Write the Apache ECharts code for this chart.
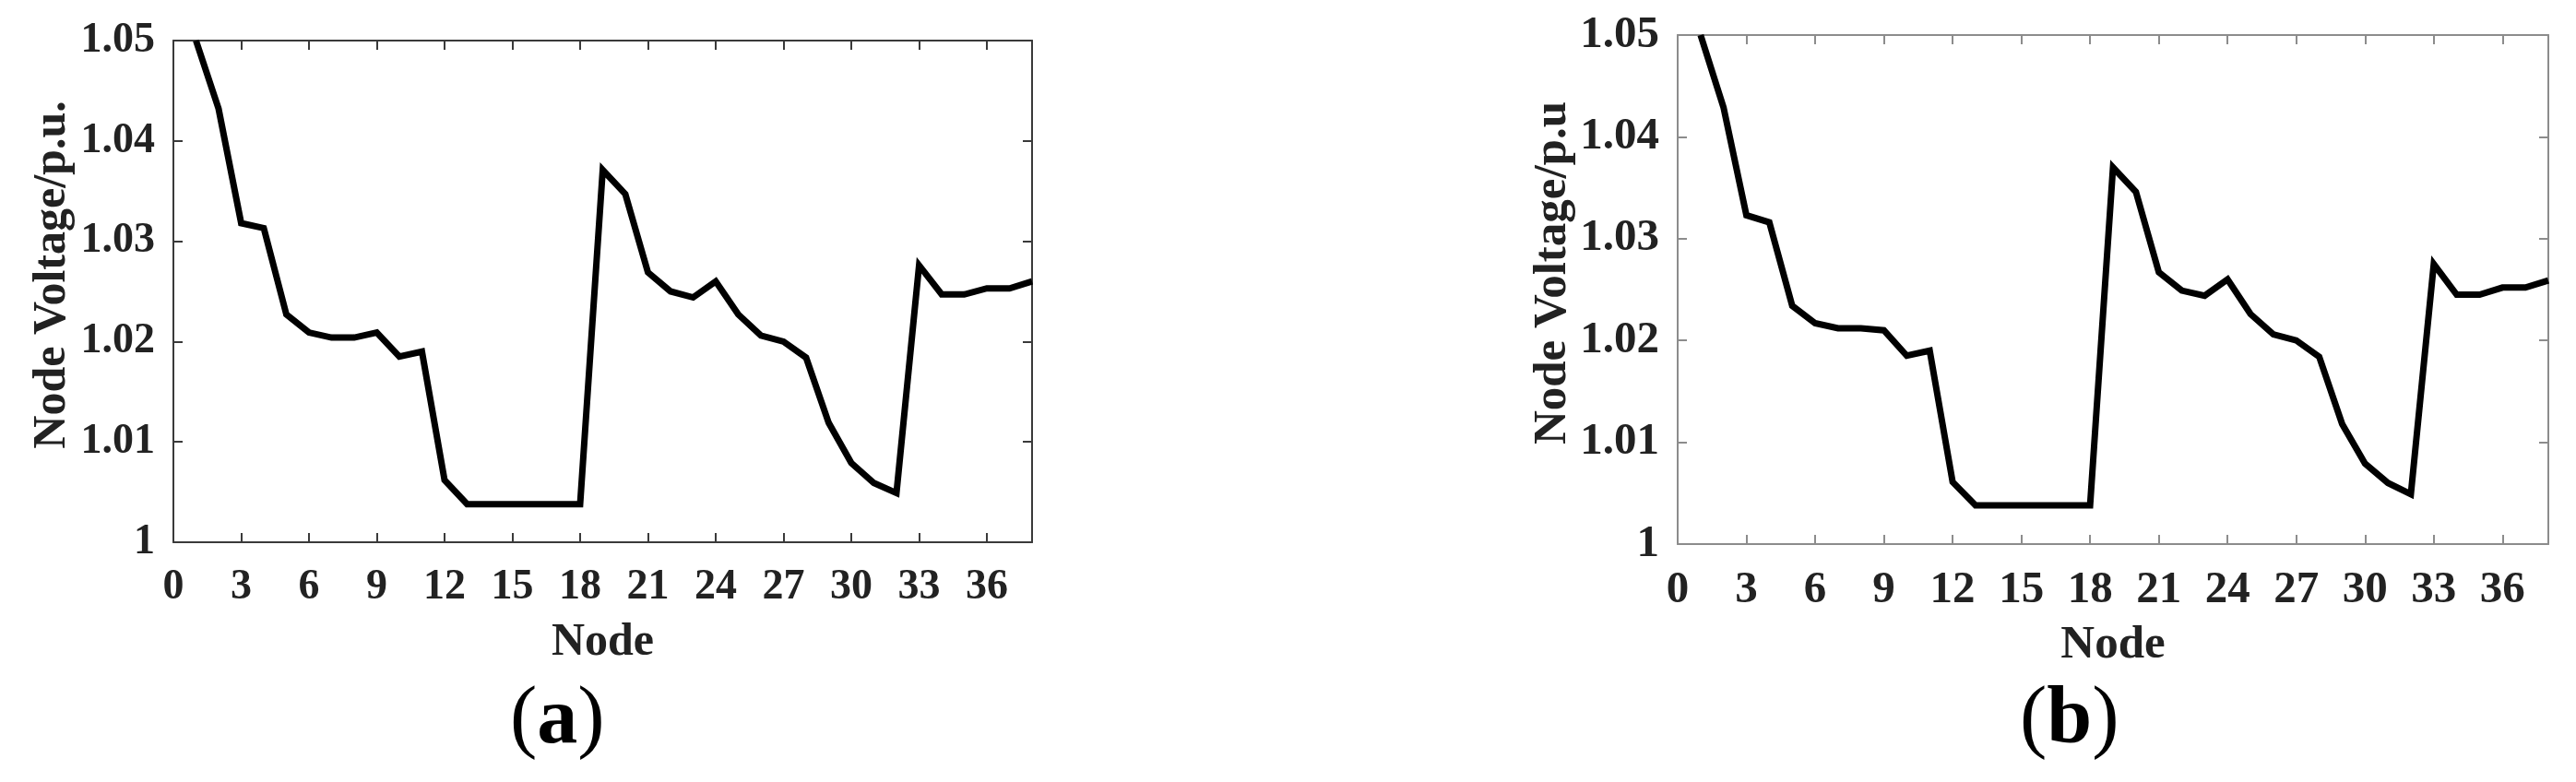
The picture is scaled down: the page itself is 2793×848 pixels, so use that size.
<!DOCTYPE html>
<html>
<head>
<meta charset="utf-8">
<script src="https://cdn.jsdelivr.net/npm/echarts@6/dist/echarts.min.js"></script>
<style>
html, body { margin: 0; padding: 0; background: #fff; }
#chart { width: 2793px; height: 848px; }
</style>
</head>
<body>
<div id="chart"></div>
<script>
// node index along the feeder
const nodes = [1, 2, 3, 4, 5, 6, 7, 8, 9, 10, 11, 12, 13, 14, 15, 16, 17, 18, 19,
  20, 21, 22, 23, 24, 25, 26, 27, 28, 29, 30, 31, 32, 33, 34, 35, 36, 37, 38];

// node voltage (p.u.), panel (a)
const voltageA = [1.0500, 1.0432, 1.0318, 1.0313, 1.0227, 1.0209, 1.0204, 1.0204, 1.0209, 1.0185,
  1.0190, 1.0062, 1.0038, 1.0038, 1.0038, 1.0038, 1.0038, 1.0038, 1.0371, 1.0347,
  1.0269, 1.0250, 1.0244, 1.0260, 1.0227, 1.0206, 1.0200, 1.0184, 1.0119, 1.0079,
  1.0059, 1.0049, 1.0276, 1.0247, 1.0247, 1.0253, 1.0253, 1.0260];

// node voltage (p.u.), panel (b)
const voltageB = [1.0500, 1.0429, 1.0323, 1.0316, 1.0234, 1.0217, 1.0212, 1.0212, 1.0210, 1.0185,
  1.0190, 1.0061, 1.0038, 1.0038, 1.0038, 1.0038, 1.0038, 1.0038, 1.0370, 1.0346,
  1.0267, 1.0249, 1.0244, 1.0260, 1.0226, 1.0206, 1.0200, 1.0184, 1.0118, 1.0079,
  1.0060, 1.0049, 1.0275, 1.0245, 1.0245, 1.0252, 1.0252, 1.0259];

// axis ranges / tick steps
const xRange = [0, 38];
const xStep = 3;
const yRange = [1, 1.05];
const yStep = 0.01;

const yNames = ["Node Voltage/p.u.", "Node Voltage/p.u"];
const xName = "Node";
const captions = ["a", "b"];

const font = "'Liberation Serif', 'Times New Roman', serif";

const panels = [
  { grid: { left: 188, top: 44, width: 931, height: 544 }, axisColor: "#3a3a3a", tickSize: 46, nameSize: 50, capX: 599 },
  { grid: { left: 1819, top: 38, width: 944, height: 552 }, axisColor: "#8c8c8c", tickSize: 49, nameSize: 51, capX: 2236 }
];

const chart = echarts.init(document.getElementById("chart"));

let grids = [], xAxes = [], yAxes = [], series = [], graphics = [];
panels.forEach(function (p, i) {
  grids.push(p.grid);
  let line = { show: true, onZero: false, lineStyle: { color: p.axisColor, width: 2 } };
  let tick = { show: true, inside: true, length: 10, lineStyle: { color: p.axisColor, width: 2 } };
  let label = { fontFamily: font, fontWeight: "bold", fontSize: p.tickSize, color: "#222" };
  // bottom + top x axes
  xAxes.push({
    type: "value", gridIndex: i, min: xRange[0], max: xRange[1], interval: xStep,
    position: "bottom", axisLine: line, axisTick: tick, splitLine: { show: false },
    axisLabel: Object.assign({ margin: 26, showMaxLabel: false }, label),
    name: xName, nameLocation: "middle", nameGap: 84,
    nameTextStyle: { fontFamily: font, fontWeight: "bold", fontSize: p.nameSize, color: "#222" }
  });
  xAxes.push({
    type: "value", gridIndex: i, min: xRange[0], max: xRange[1], interval: xStep,
    position: "top", axisLine: line, axisTick: tick, splitLine: { show: false },
    axisLabel: { show: false }
  });
  // left + right y axes
  yAxes.push({
    type: "value", gridIndex: i, min: yRange[0], max: yRange[1], interval: yStep,
    position: "left", axisLine: line, axisTick: tick, splitLine: { show: false },
    axisLabel: Object.assign({ margin: 20 }, label),
    name: yNames[i], nameLocation: "middle", nameGap: 106,
    nameTextStyle: { fontFamily: font, fontWeight: "bold", fontSize: p.nameSize, color: "#222", padding: [0, 0, 0, 36] }
  });
  yAxes.push({
    type: "value", gridIndex: i, min: yRange[0], max: yRange[1], interval: yStep,
    position: "right", axisLine: line, axisTick: tick, splitLine: { show: false },
    axisLabel: { show: false }
  });
  const vals = i === 0 ? voltageA : voltageB;
  series.push({
    type: "line",
    xAxisIndex: i * 2,
    yAxisIndex: i * 2,
    data: nodes.map(function (n, k) { return [n, vals[k]]; }),
    showSymbol: false,
    lineStyle: { color: "#000", width: 7, join: "miter" }
  });
  graphics.push({
    type: "text", left: p.capX - 46, top: 738,
    style: {
      text: "{p|(}{b|" + captions[i] + "}{p|)}",
      rich: {
        p: { fontFamily: font, fontSize: 88, fill: "#000" },
        b: { fontFamily: font, fontWeight: "bold", fontSize: 88, fill: "#000" }
      }
    }
  });
});

chart.setOption({
  animation: false,
  backgroundColor: "#fff",
  grid: grids,
  xAxis: xAxes,
  yAxis: yAxes,
  series: series,
  graphic: graphics
});
</script>
</body>
</html>
